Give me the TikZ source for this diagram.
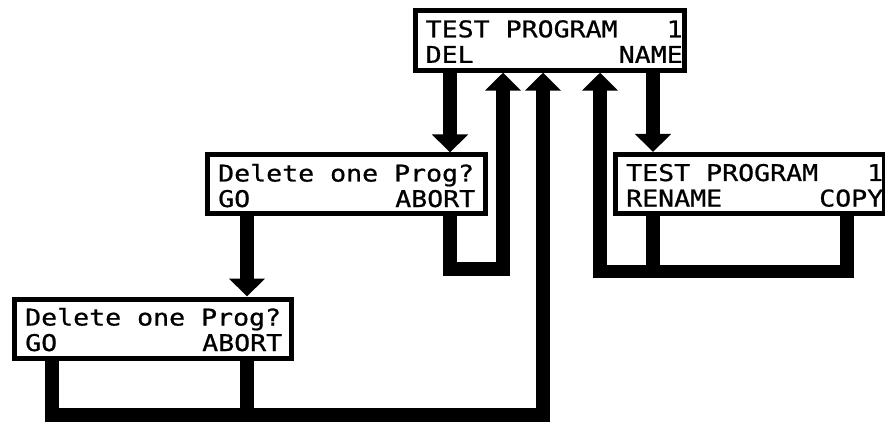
\documentclass[tikz,border=0pt]{standalone}
\usepackage{fontspec}
\newfontfamily\lcdfont[FakeStretch=1.155,FakeBold=0.8]{DejaVu Sans Mono}
\usetikzlibrary{arrows.meta}
\begin{document}
\begin{tikzpicture}[x=1pt,y=-1pt,
  lcdbox/.style={rectangle, draw=black, line width=5pt, fill=white, inner sep=0pt},
  lcdtxt/.style={inner sep=0pt, anchor=base west, font=\lcdfont\fontsize{23pt}{25.5pt}\selectfont},
  conn/.style={line width=13.5pt, draw=black},
  arr/.style={conn, -{Triangle[width=35pt,length=18pt]}}]
\useasboundingbox (0,0) rectangle (885,422);

% boxes
\node[lcdbox, minimum width=269pt, minimum height=59.4pt] (top) at (549.7,40.5) {};
\node[lcdbox, minimum width=278.5pt, minimum height=58.5pt] (mid) at (346.25,184.25) {};
\node[lcdbox, minimum width=277pt, minimum height=59pt] (bot) at (153,328.5) {};
\node[lcdbox, minimum width=269pt, minimum height=58.5pt] (right) at (750,183.75) {};

% texts
\node[lcdtxt] (ttop) at (425.5,37.3) {\vtop{\hbox to 257pt{TEST PROGRAM\hfill 1}\hbox to 257pt{DEL\hfill NAME}}};
\node[lcdtxt] (tmid) at (218,181.5) {\vtop{\hbox to 257pt{Delete one Prog?\hfill}\hbox to 257pt{GO\hfill ABORT}}};
\node[lcdtxt] (tbot) at (25,325.5) {\vtop{\hbox to 257pt{Delete one Prog?\hfill}\hbox to 257pt{GO\hfill ABORT}}};
\node[lcdtxt] (tright) at (626,181) {\vtop{\hbox to 257pt{TEST PROGRAM\hfill 1}\hbox to 257pt{RENAME\hfill COPY}}};

% columns and joints
\coordinate (xdel) at (450,0);
\coordinate (xname) at (653,0);
\coordinate (xcopy) at (847,0);
\coordinate (xgo) at (247,0);
\coordinate (xgob) at (52,0);
\coordinate (jA) at (503,269);
\coordinate (jB) at (600,271.5);
\coordinate (jC) at (543,415);

% connectors
\draw[arr] (top.south -| xdel) -- (mid.north -| xdel);
\draw[arr] (mid.south -| xdel) |- (jA) -- (top.south -| jA);
\draw[arr] (top.south -| xname) -- (right.north -| xname);
\draw[arr] (right.south -| xcopy) |- (jB) -- (top.south -| jB);
\draw[conn] (right.south -| xname) -- (xname |- jB);
\draw[arr] (mid.south -| xgo) -- (bot.north -| xgo);
\draw[arr] (bot.south -| xgob) |- (jC) -- (top.south -| jC);
\draw[conn] (bot.south -| xgo) -- (xgo |- jC);
\end{tikzpicture}
\end{document}
